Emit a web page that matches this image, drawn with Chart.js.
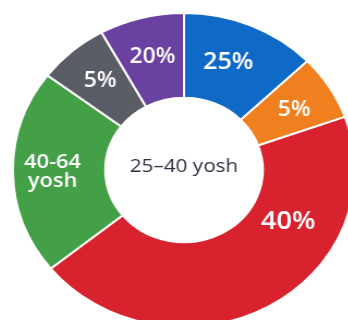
<!DOCTYPE html>
<html>
<head>
<meta charset="utf-8">
<script src="https://cdn.jsdelivr.net/npm/chart.js@4/dist/chart.umd.min.js"></script>
<style>
  html, body { margin: 0; padding: 0; background: #fff; overflow: hidden; }
  body { width: 348px; height: 320px; position: relative; }
  #wrap { position: absolute; left: 26px; top: 12px; width: 316px; height: 316px;
          transform: scaleX(1.09); transform-origin: 158px 158px; }
</style>
</head>
<body>
<div id="wrap"><canvas id="donutChart" width="316" height="316"></canvas></div>
<script>
"use strict";

// slices, clockwise from 12 o'clock (sizes)
const categories = ["25%", "5%", "40%", "40-64 yosh", "5%", "20%"];
const sliceValues = [12.8, 6.7, 44.7, 21.1, 6.7, 8.0];
const sliceLabels = [["25%"], ["5%"], ["40%"], ["40-64", "yosh"], ["5%"], ["20%"]];
const sliceColors = ["#0f69c6", "#f0801f", "#d8232f", "#43a047", "#5a5c66", "#6a40a0"];
const centerText = "25–40 yosh";

// draws the white labels inside the slices and the text in the hole
const labelPlugin = {
  id: "sliceLabels",
  afterDatasetsDraw(chart, args, opts) {
    const ctx = chart.ctx;
    const meta = chart.getDatasetMeta(0);
    ctx.save();
    ctx.textAlign = "center";
    ctx.textBaseline = "middle";
    meta.data.forEach(function (arc, i) {
      const p = arc.getProps(["x", "y", "startAngle", "endAngle", "innerRadius", "outerRadius"], true);
      const a = p.startAngle + (p.endAngle - p.startAngle) * opts.at[i];
      const r = (p.innerRadius + p.outerRadius) / 2 + opts.dr[i];
      const lines = sliceLabels[i];
      const size = opts.sizes[i];
      ctx.fillStyle = "#ffffff";
      ctx.font = "600 " + size + "px 'Open Sans'";
      const lh = size * 0.98;
      lines.forEach(function (t, k) {
        const off = (k - (lines.length - 1) / 2) * lh;
        ctx.fillText(t, p.x + Math.cos(a) * r, p.y + Math.sin(a) * r + off);
      });
    });
    const c = meta.data[0];
    ctx.fillStyle = "#2b3140";
    ctx.font = "19px 'Open Sans'";
    ctx.fillText(centerText, c.x, c.y - 3);
    ctx.restore();
  }
};

let ctx_donut = document.getElementById("donutChart").getContext("2d");

let myDonutChart = new Chart(ctx_donut, {
  type: "doughnut",
  data: {
    labels: categories,
    datasets: [{
      data: sliceValues,
      backgroundColor: sliceColors,
      borderColor: "#ffffff",
      borderWidth: 2
    }]
  },
  options: {
    responsive: false,
    animation: false,
    cutout: "46%",
    layout: { padding: 0 },
    plugins: {
      legend: { display: false },
      tooltip: { enabled: false },
      sliceLabels: {
        at: [0.45, 0.55, 0.3, 0.5, 0.5, 0.5],
        dr: [0, 3, -6, 6, 3, 2],
        sizes: [23, 21, 25, 20, 21, 21]
      }
    }
  },
  plugins: [labelPlugin]
});
</script>
</body>
</html>
